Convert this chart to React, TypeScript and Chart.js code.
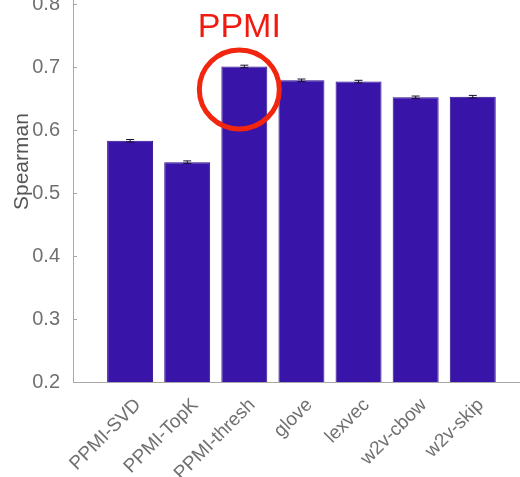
import React, { useEffect, useRef } from "react";
import { Chart, registerables } from "chart.js";

Chart.register(...registerables);

const categories = ["PPMI-SVD", "PPMI-TopK", "PPMI-thresh", "glove", "lexvec", "w2v-cbow", "w2v-skip"];
const spearman = [0.583, 0.549, 0.701, 0.679, 0.677, 0.652, 0.653];
const errors = [0.002, 0.002, 0.002, 0.002, 0.002, 0.002, 0.002];
const yTicks = [0.2, 0.3, 0.4, 0.5, 0.6, 0.7, 0.8];
const yTitle = "Spearman";
const annotationText = "PPMI";
const annotatedIndex = 2;

const BAR = "#3914a8";
const AXIS = "#a8a8a8";
const TEXT = "#707070";
const FONT = '"Liberation Sans", Arial, sans-serif';

export default function App() {
  const ref = useRef<HTMLCanvasElement | null>(null);

  useEffect(() => {
    if (!ref.current) return;
    const overlay = {
      id: "overlay",
      afterDatasetsDraw(chart: any) {
        const ctx = chart.ctx;
        const xs = chart.scales.x;
        const ys = chart.scales.y;
        const area = chart.chartArea;
        ctx.save();
        ctx.strokeStyle = AXIS;
        ctx.lineWidth = 1;
        yTicks.forEach((t) => {
          const y = Math.round(ys.getPixelForValue(t)) + 0.5;
          ctx.beginPath();
          ctx.moveTo(area.left, y);
          ctx.lineTo(area.left + 4, y);
          ctx.stroke();
        });
        ctx.strokeStyle = "#1a1030";
        spearman.forEach((v, i) => {
          const x = xs.getPixelForValue(i + 1);
          const y1 = ys.getPixelForValue(v - errors[i]);
          const y2 = ys.getPixelForValue(v + errors[i]);
          ctx.beginPath();
          ctx.moveTo(x, y1);
          ctx.lineTo(x, y2);
          ctx.moveTo(x - 4, y1);
          ctx.lineTo(x + 4, y1);
          ctx.moveTo(x - 4, y2);
          ctx.lineTo(x + 4, y2);
          ctx.stroke();
        });
        const midY = ys.getPixelForValue(0.55);
        ctx.save();
        ctx.translate(22, midY);
        ctx.rotate(-Math.PI / 2);
        ctx.fillStyle = "#555555";
        ctx.font = "21px " + FONT;
        ctx.textAlign = "center";
        ctx.textBaseline = "middle";
        ctx.fillText(yTitle, 0, 0);
        ctx.restore();
        const cx = xs.getPixelForValue(annotatedIndex + 1) - 5;
        const cy = ys.getPixelForValue(spearman[annotatedIndex]) + 23;
        ctx.strokeStyle = "#f2250f";
        ctx.lineWidth = 5;
        ctx.beginPath();
        ctx.ellipse(cx, cy, 40, 39.5, 0, 0, Math.PI * 2);
        ctx.stroke();
        ctx.fillStyle = "#f01a10";
        ctx.font = "34px " + FONT;
        ctx.textAlign = "center";
        ctx.textBaseline = "alphabetic";
        ctx.fillText(annotationText, cx, cy - 52);
        ctx.restore();
      },
    };

    const chart = new Chart(ref.current, {
      type: "bar",
      data: {
        datasets: [
          {
            data: categories.map((c, i) => ({ x: i + 1, y: spearman[i] })),
            backgroundColor: BAR,
            borderColor: "#2c0e8c",
            borderWidth: 1,
            categoryPercentage: 1,
            barPercentage: 0.805,
          },
        ],
      },
      options: {
        animation: false,
        responsive: false,
        maintainAspectRatio: false,
        layout: { padding: { top: 11.5, right: 3, left: 0, bottom: 0 } },
        plugins: { legend: { display: false }, tooltip: { enabled: false } },
        scales: {
          x: {
            type: "linear",
            offset: false,
            min: 0,
            max: 8,
            afterFit: (s: any) => {
              s.height = 118;
            },
            grid: { display: false, offset: false },
            border: { display: true, color: AXIS, width: 1 },
            ticks: {
              stepSize: 1,
              autoSkip: false,
              minRotation: 45,
              maxRotation: 45,
              color: TEXT,
              padding: 4,
              labelOffset: 8,
              font: { family: FONT, size: 19 },
              callback: (v: any) => categories[Number(v) - 1] ?? "",
            },
          },
          y: {
            min: 0.2,
            max: 0.843,
            afterFit: (s: any) => {
              s.width = 73;
            },
            grid: { display: false },
            border: { display: true, color: AXIS, width: 1 },
            ticks: {
              stepSize: 0.1,
              includeBounds: false,
              color: TEXT,
              padding: 5,
              font: { family: FONT, size: 20 },
              callback: (v: any) => Number(v).toFixed(1),
            },
          },
        },
      },
      plugins: [overlay],
    });
    return () => chart.destroy();
  }, []);

  return (
    <div
      style={{
        position: "absolute",
        left: 0,
        top: 0,
        width: 520,
        height: 477,
        overflow: "hidden",
        background: "#ffffff",
      }}
    >
      <canvas
        ref={ref}
        width={550}
        height={540}
        style={{ position: "absolute", left: 0, top: -40, width: 550, height: 540 }}
      />
    </div>
  );
}
